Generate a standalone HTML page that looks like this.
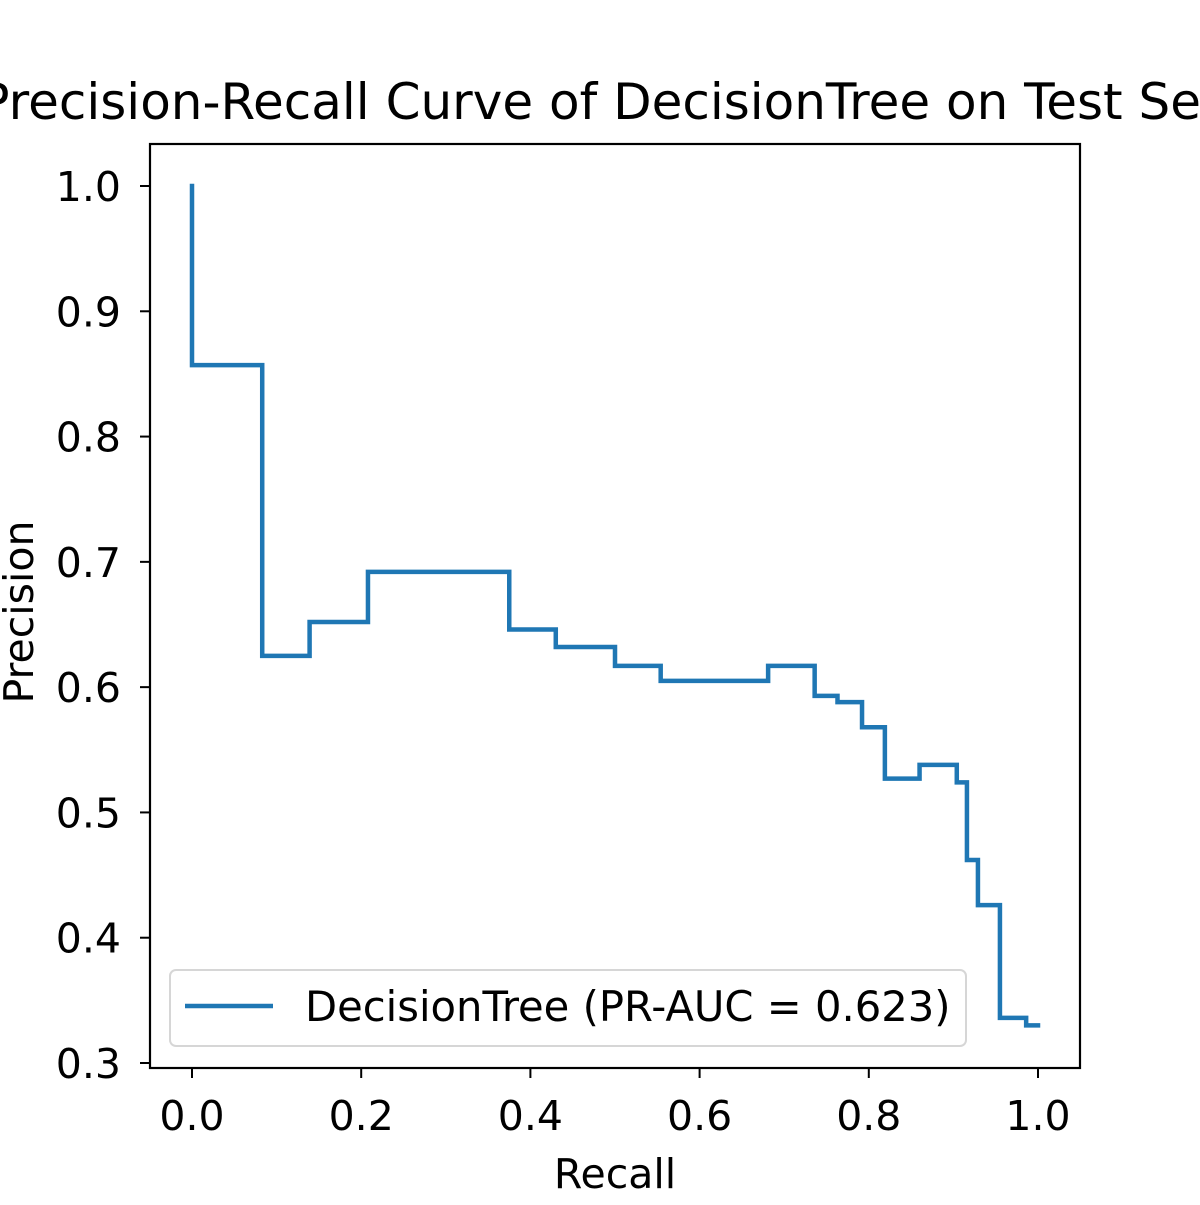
<!DOCTYPE html>
<html><head><meta charset="utf-8"><style>
html,body{margin:0;padding:0;background:#fff;}
svg text{font-family:"DejaVu Sans","Liberation Sans",sans-serif;fill:#000;}
</style></head><body>
<svg id="chart" width="1200" height="1200" viewBox="0 0 1200 1200" xmlns="http://www.w3.org/2000/svg">
<rect width="1200" height="1200" fill="#fff"/>
<text x="600" y="119" font-size="50" text-anchor="middle">Precision-Recall Curve of DecisionTree on Test Set</text>
<g id="xticks"></g><g id="yticks"></g>
<path id="curve" fill="none" stroke="#1f77b4" stroke-width="4.5" stroke-linejoin="miter" stroke-linecap="square"/>
<rect x="150" y="144" width="930" height="924" fill="none" stroke="#000" stroke-width="2.2"/>
<text x="615" y="1188" font-size="41" text-anchor="middle">Recall</text>
<text transform="translate(33,612) rotate(-90)" font-size="41" text-anchor="middle">Precision</text>
<g>
<rect x="170" y="970" width="796" height="76" rx="6" fill="#fff" fill-opacity="0.8" stroke="#d6d6d6" stroke-width="2"/>
<line x1="185" y1="1006" x2="273" y2="1006" stroke="#1f77b4" stroke-width="4.5"/>
<text x="305" y="1021" font-size="41.7">DecisionTree (PR-AUC = 0.623)</text>
</g>
</svg>
<script>
const recall = [0,0,0.083,0.139,0.208,0.375,0.43,0.5,0.554,0.681,0.736,0.763,0.792,0.819,0.86,0.904,0.916,0.929,0.955,0.986,1.0];
const precision = [1.0,0.857,0.625,0.652,0.692,0.646,0.632,0.617,0.605,0.617,0.593,0.588,0.568,0.527,0.538,0.524,0.462,0.426,0.336,0.330,0.330];
const xTickVals = [0,0.2,0.4,0.6,0.8,1.0];
const xTickLabels = ["0.0","0.2","0.4","0.6","0.8","1.0"];
const yTickVals = [0.3,0.4,0.5,0.6,0.7,0.8,0.9,1.0];
const yTickLabels = ["0.3","0.4","0.5","0.6","0.7","0.8","0.9","1.0"];
const NS="http://www.w3.org/2000/svg";
function xs(v){return 192+v*846;}
function ys(v){return 186+(1.0-v)*(877/0.7);}
let d="M"+xs(recall[0])+","+ys(precision[0]);
for(let i=1;i<recall.length;i++){
  d+=" H"+xs(recall[i])+" V"+ys(precision[i]);
}
document.getElementById('curve').setAttribute('d',d);
const xg=document.getElementById('xticks');
xTickVals.forEach((v,i)=>{
  const l=document.createElementNS(NS,'line');
  l.setAttribute('x1',xs(v));l.setAttribute('x2',xs(v));l.setAttribute('y1',1068);l.setAttribute('y2',1078);
  l.setAttribute('stroke','#000');l.setAttribute('stroke-width','2');
  
  
  xg.appendChild(l);
  const t=document.createElementNS(NS,'text');
  t.setAttribute('x',xs(v));t.setAttribute('y',1130);t.setAttribute('font-size','41');t.setAttribute('text-anchor','middle');
  t.textContent=xTickLabels[i];
  
  
  xg.appendChild(t);
});
const yg=document.getElementById('yticks');
yTickVals.forEach((v,i)=>{
  const l=document.createElementNS(NS,'line');
  l.setAttribute('x1',140);l.setAttribute('x2',150);l.setAttribute('y1',ys(v));l.setAttribute('y2',ys(v));
  l.setAttribute('stroke','#000');l.setAttribute('stroke-width','2');
  
  
  yg.appendChild(l);
  const t=document.createElementNS(NS,'text');
  t.setAttribute('x',121);t.setAttribute('y',ys(v)+15);t.setAttribute('font-size','41');t.setAttribute('text-anchor','end');
  t.textContent=yTickLabels[i];
  
  
  yg.appendChild(t);
});
</script>
</body></html>
